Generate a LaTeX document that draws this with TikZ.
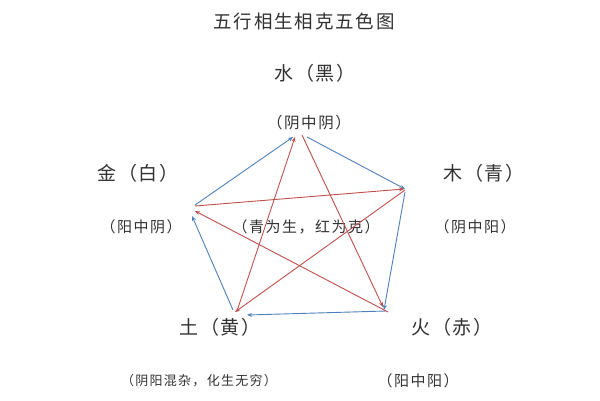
\documentclass[tikz,border=0pt]{standalone}
\usepackage{fontspec}
\newfontfamily\cjk[LetterSpace=10]{Noto Sans CJK SC}
\usetikzlibrary{arrows.meta}
\definecolor{sheng}{RGB}{79,129,189}
\definecolor{ke}{RGB}{192,80,77}
\definecolor{txt}{RGB}{50,50,50}
\tikzset{
  lbl/.style={text=txt,inner sep=0pt,font=\cjk\fontsize{#1}{#1}\selectfont},
  shengarrow/.style={draw=sheng,line width=0.9pt,-{Stealth[length=5pt,width=4pt]}},
  kearrow/.style={draw=ke,line width=0.9pt,-{Stealth[length=5pt,width=4pt]}}
}
\begin{document}
\begin{tikzpicture}[x=1pt,y=-1pt]
\useasboundingbox[fill=white] (0,0) rectangle (600,400);
% labels
\node[lbl=18.5] (title) at (304,21) {五行相生相克五色图};
\node[lbl=19] (shui) at (315,73) {水（黑）};
\node[lbl=15.5] (shuiyy) at (309,123) {（阴中阴）};
\node[lbl=19] (jin) at (138,173) {金（白）};
\node[lbl=19] (mu) at (484,173) {木（青）};
\node[lbl=15] (jinyy) at (141,227) {（阳中阴）};
\node[lbl=15] (note) at (306,227) {（青为生，红为克）};
\node[lbl=15] (muyy) at (475,227) {（阴中阳）};
\node[lbl=19] (tu) at (220,327) {土（黄）};
\node[lbl=19] (huo) at (452,327) {火（赤）};
\node[lbl=13] (tuyy) at (199,381) {（阴阳混杂，化生无穷）};
\node[lbl=15] (huoyy) at (418,381) {（阳中阳）};
% blue end points
\coordinate (Wb1) at (293,137);
\coordinate (Wb2) at (307,137);
\coordinate (Mb1) at (405,189);
\coordinate (Mb2) at (405,192);
\coordinate (Hb1) at (384,310);
\coordinate (Hb2) at (386,311);
\coordinate (Tb1) at (247,315);
\coordinate (Tb2) at (233,310);
\coordinate (Jb1) at (192,216);
\coordinate (Jb2) at (195,205);
% red end points
\coordinate (Tr1) at (235,312);
\coordinate (Tr2) at (237,311);
\coordinate (Wr1) at (295,137);
\coordinate (Wr2) at (302,135);
\coordinate (Hr1) at (383,307);
\coordinate (Hr2) at (388,312);
\coordinate (Jr1) at (195,211);
\coordinate (Jr2) at (195,206);
\coordinate (Mr1) at (404,189);
\coordinate (Mr2) at (405,190);
% sheng (blue)
\draw[shengarrow] (Jb2) -- (Wb1);
\draw[shengarrow] (Wb2) -- (Mb1);
\draw[shengarrow] (Mb2) -- (Hb1);
\draw[shengarrow] (Hb2) -- (Tb1);
\draw[shengarrow] (Tb2) -- (Jb1);
% ke (red)
\draw[kearrow] (Tr2) -- (Wr1);
\draw[kearrow] (Wr2) -- (Hr1);
\draw[kearrow] (Hr2) -- (Jr1);
\draw[kearrow] (Jr2) -- (Mr1);
\draw[kearrow] (Mr2) -- (Tr1);
\end{tikzpicture}
\end{document}
